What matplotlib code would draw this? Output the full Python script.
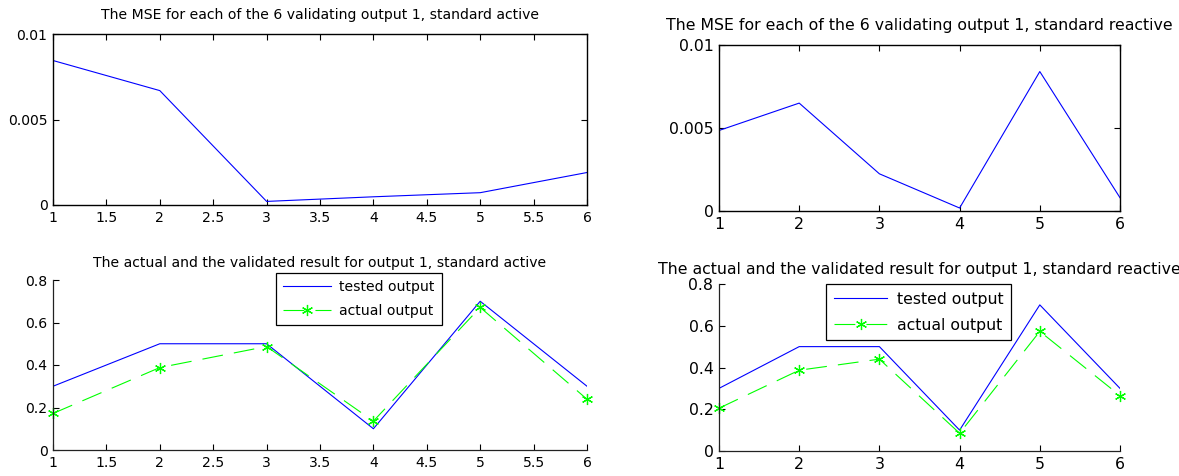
import matplotlib
matplotlib.use("Agg")
import matplotlib.pyplot as plt

plt.rcParams['font.family'] = ['DejaVu Sans']
plt.rcParams['lines.scale_dashes'] = False

# ---------------- data ----------------
x_runs = [1, 2, 3, 4, 5, 6]

mse_active = [0.00845, 0.00669, 0.00021, 0.00048, 0.00072, 0.0019]
mse_reactive = [0.00485, 0.0065, 0.00224, 0.00018, 0.0084, 0.0008]

tested_active = [0.3, 0.5, 0.5, 0.1, 0.7, 0.3]
actual_active = [0.172, 0.388, 0.487, 0.136, 0.671, 0.239]

tested_reactive = [0.3, 0.5, 0.5, 0.1, 0.7, 0.3]
actual_reactive = [0.205, 0.387, 0.44, 0.085, 0.573, 0.265]

xticks_half = [1, 1.5, 2, 2.5, 3, 3.5, 4, 4.5, 5, 5.5, 6]
xticklabels_half = ['1', '1.5', '2', '2.5', '3', '3.5', '4', '4.5', '5', '5.5', '6']
xticks_int = [1, 2, 3, 4, 5, 6]
xticklabels_int = ['1', '2', '3', '4', '5', '6']
mse_yticks = [0, 0.005, 0.01]
mse_yticklabels = ['0', '0.005', '0.01']
out_yticks = [0, 0.2, 0.4, 0.6, 0.8]
out_yticklabels = ['0', '0.2', '0.4', '0.6', '0.8']

titles = [
    'The MSE for each of the 6 validating output 1, standard active',
    'The MSE for each of the 6 validating output 1, standard reactive',
    'The actual and the validated result for output 1, standard active',
    'The actual and the validated result for output 1, standard reactive',
]
legend_labels = ['tested output', 'actual output']

# ---------------- layout ----------------
W, H = 1179, 476
fig = plt.figure(figsize=(W / 100, H / 100), dpi=100)


def rect(x0, y0, x1, y1):
    return [x0 / W, 1 - y1 / H, (x1 - x0) / W, (y1 - y0) / H]


ax_tl = fig.add_axes(rect(53, 34, 587, 205))
ax_tr = fig.add_axes(rect(719, 45, 1120, 211))
ax_bl = fig.add_axes(rect(53, 280, 587, 450))
ax_br = fig.add_axes(rect(719, 284, 1120, 451))

BLUE = (0, 0, 1)
GREEN = (0, 1, 0)
FS_L = 10.1
FS_R = 11.3


def style_box(ax, fs):
    for s in ax.spines.values():
        s.set_linewidth(1.0)
        s.set_color('black')
    ax.tick_params(direction='in', length=4, width=0.8, top=True, right=True,
                   labelsize=fs)
    ax.tick_params(axis='x', pad=4.5)
    ax.tick_params(axis='y', pad=4)


def style_open(ax, fs):
    for s in ['top', 'right']:
        ax.spines[s].set_visible(False)
    for s in ['left', 'bottom']:
        ax.spines[s].set_linewidth(0.9)
        ax.spines[s].set_color('#222222')
    ax.tick_params(direction='in', length=4, width=0.8, top=False, right=False,
                   labelsize=fs)
    ax.tick_params(axis='x', pad=4.5)
    ax.tick_params(axis='y', pad=4)


# top-left
ax_tl.plot(x_runs, mse_active, color=BLUE, lw=0.8)
ax_tl.set_xlim(1, 6)
ax_tl.set_ylim(0, 0.01)
ax_tl.set_xticks(xticks_half, xticklabels_half)
ax_tl.set_yticks(mse_yticks, mse_yticklabels)
style_box(ax_tl, FS_L)
ax_tl.set_title(titles[0], fontsize=FS_L, pad=10.5)

# top-right
ax_tr.plot(x_runs, mse_reactive, color=BLUE, lw=0.8)
ax_tr.set_xlim(1, 6)
ax_tr.set_ylim(0, 0.01)
ax_tr.set_xticks(xticks_int, xticklabels_int)
ax_tr.set_yticks(mse_yticks, mse_yticklabels)
style_box(ax_tr, FS_R)
ax_tr.set_title(titles[1], fontsize=FS_R, pad=11)


def out_panel(ax, tested, actual, xt, xtl, fs, title, tpad, leg_xy, lspace):
    ax.plot(x_runs, tested, color=BLUE, lw=0.8, label=legend_labels[0])
    ax.plot(x_runs, actual, color=GREEN, lw=0.8, dashes=(15, 8),
            marker=(6, 2, 0), markersize=8, markeredgewidth=0.9,
            markeredgecolor=GREEN, clip_on=False, label=legend_labels[1])
    ax.set_xlim(1, 6)
    ax.set_ylim(0, 0.8)
    ax.set_xticks(xt, xtl)
    ax.set_yticks(out_yticks, out_yticklabels)
    style_open(ax, fs)
    ax.set_title(title, fontsize=fs, pad=tpad)
    leg = ax.legend(loc='upper left', bbox_to_anchor=(leg_xy[0] / W, 1 - leg_xy[1] / H),
                    bbox_transform=fig.transFigure, borderaxespad=0,
                    fontsize=fs, frameon=True, fancybox=False, framealpha=1,
                    edgecolor='black', handlelength=3.4, handletextpad=0.6,
                    borderpad=0.5, labelspacing=lspace)
    leg.get_frame().set_linewidth(0.9)


out_panel(ax_bl, tested_active, actual_active, xticks_half, xticklabels_half,
          FS_L, titles[2], 9.5, (276, 273), 0.72)
out_panel(ax_br, tested_reactive, actual_reactive, xticks_int, xticklabels_int,
          FS_R, titles[3], 7.5, (826, 284), 0.68)

fig.savefig('out.png', dpi=100)
